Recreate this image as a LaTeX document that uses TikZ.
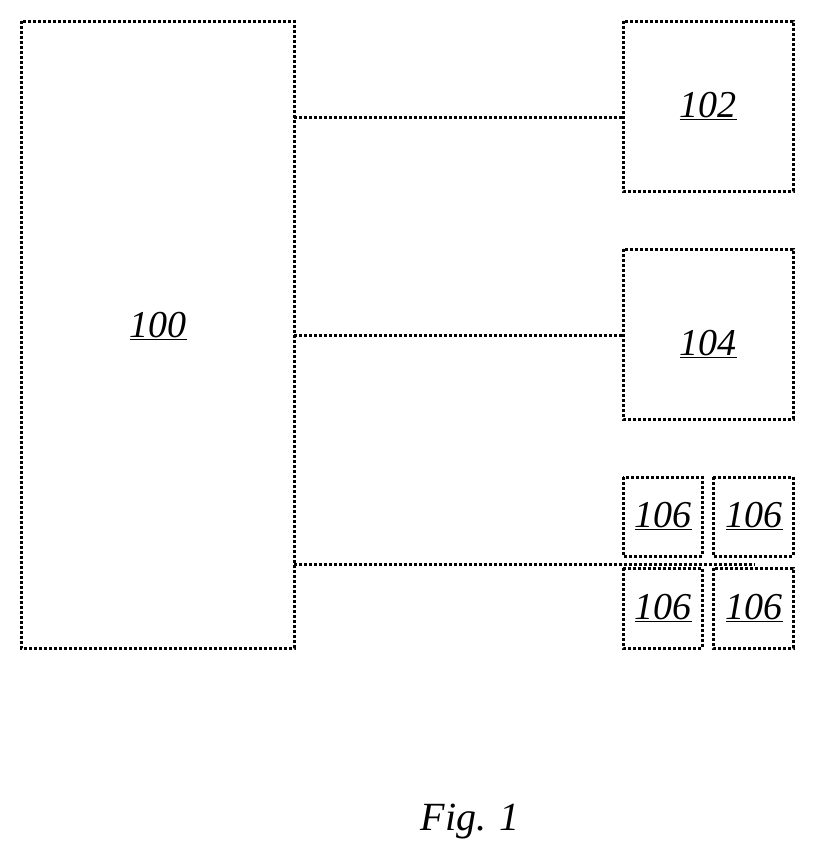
\documentclass[tikz,border=0pt]{standalone}
\usepackage{fontspec}
\setmainfont{Liberation Serif}
\newcommand{\ul}[1]{\underline{#1}}
\begin{document}
\begin{tikzpicture}[x=1pt,y=-1pt,
  box/.style={draw,line width=3pt,densely dashed,inner sep=0pt},
  lbl/.style={font=\fontsize{38}{40}\selectfont\itshape},
  wire/.style={line width=3pt,densely dashed}]
\useasboundingbox (0,0) rectangle (815,854);
\draw[box] (21,21) rectangle (294,648);
\node[lbl] (l100) at (158,326) {\ul{100}};
\coordinate (a) at (294,117); \coordinate (b) at (294,335); \coordinate (c) at (294,564);
\draw[box] (623,21) rectangle (793,191);
\node[lbl] (l102) at (708,106) {\ul{102}};
\draw[box] (623,249) rectangle (793,419);
\node[lbl] (l104) at (708,344) {\ul{104}};
\draw[box] (623,477) rectangle (702,556);
\draw[box] (713,477) rectangle (793,556);
\draw[box] (623,568) rectangle (702,648);
\draw[box] (713,568) rectangle (793,648);
\node[lbl] (l1) at (663,516) {\ul{106}};
\node[lbl] (l2) at (754,516) {\ul{106}};
\node[lbl] (l3) at (663,608) {\ul{106}};
\node[lbl] (l4) at (754,608) {\ul{106}};
\coordinate (e) at (755,564);
\draw[wire] (a) -- (623,117);
\draw[wire] (b) -- (623,335);
\draw[wire] (c) -- (e);
\node[font=\fontsize{40}{42}\selectfont\itshape] (fig) at (470,822) {Fig. 1};
\end{tikzpicture}
\end{document}
